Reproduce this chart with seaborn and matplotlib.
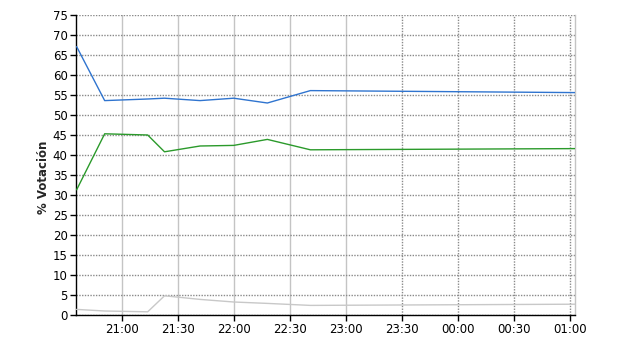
import matplotlib
matplotlib.use("Agg")
import matplotlib.pyplot as plt
import matplotlib.dates as mdates
import seaborn as sns
import pandas as pd

# ---- data ----
times = ["2024-01-01 20:36", "2024-01-01 20:51", "2024-01-01 21:14", "2024-01-01 21:23",
         "2024-01-01 21:42", "2024-01-01 22:00", "2024-01-01 22:18", "2024-01-01 22:41",
         "2024-01-02 01:03"]
blue_vals = [67.1, 53.6, 54.0, 54.2, 53.6, 54.2, 53.0, 56.1, 55.6]
green_vals = [31.3, 45.3, 45.0, 40.8, 42.25, 42.4, 43.9, 41.3, 41.6]
gray_vals = [1.4, 1.0, 0.8, 4.8, 3.9, 3.25, 2.9, 2.4, 2.7]
series_names = ["Serie 1", "Serie 2", "Serie 3"]
series_colors = ["#2f74cf", "#2b9a2b", "#c8c8c8"]
y_ticks = list(range(0, 80, 5))
x_start = "2024-01-01 20:35:40"
x_end = "2024-01-02 01:02:40"

t = pd.to_datetime(times)
df = pd.concat([
    pd.DataFrame({"t": t, "v": blue_vals, "s": series_names[0]}),
    pd.DataFrame({"t": t, "v": green_vals, "s": series_names[1]}),
    pd.DataFrame({"t": t, "v": gray_vals, "s": series_names[2]}),
])

sns.set_theme(style="white")
plt.rcParams["font.family"] = ["DejaVu Sans"]

fig = plt.figure(figsize=(6.4, 3.5), dpi=100)
ax = fig.add_axes([76 / 640, 35 / 350, (575.3 - 76) / 640, 300 / 350])

sns.lineplot(data=df, x="t", y="v", hue="s", palette=dict(zip(series_names, series_colors)),
             hue_order=series_names[::-1], linewidth=1.0, legend=False, ax=ax, zorder=3)

ax.set_xlim(pd.Timestamp(x_start), pd.Timestamp(x_end))
ax.set_ylim(0, 75)
ax.set_yticks(y_ticks)
ax.xaxis.set_major_locator(mdates.MinuteLocator(byminute=[0, 30]))
ax.xaxis.set_major_formatter(mdates.DateFormatter("%H:%M"))

ax.set_xlabel("")
ax.set_ylabel("% Votación", fontsize=8.5, fontweight="bold")
ax.yaxis.set_label_coords(-0.052, 0.46)

ax.tick_params(axis="both", which="major", labelsize=8.5, direction="out",
               length=4, width=1, color="black", pad=2, labelcolor="black",
               bottom=True, left=True)

# grid: horizontal dotted gray; vertical depends on tick
ax.grid(True, axis="y", color="#8a8a8a", linestyle=(0, (1, 1)), linewidth=1)
ax.grid(True, axis="x")
fig.canvas.draw()
xlines = ax.xaxis.get_gridlines()
for i, gl in enumerate(xlines):
    if i <= 4:
        gl.set_color("#c4c4c4")
        gl.set_linestyle("-")
        gl.set_linewidth(1)
    else:
        gl.set_color("#8a8a8a")
        gl.set_linestyle((0, (1, 1)))
        gl.set_linewidth(1)
ax.set_axisbelow(True)

for side in ["left", "bottom"]:
    ax.spines[side].set_color("black")
    ax.spines[side].set_linewidth(1)
ax.spines["top"].set_visible(False)
ax.spines["right"].set_color("#c4c4c4")
ax.spines["right"].set_linewidth(1)

fig.savefig("out.png", dpi=100)
